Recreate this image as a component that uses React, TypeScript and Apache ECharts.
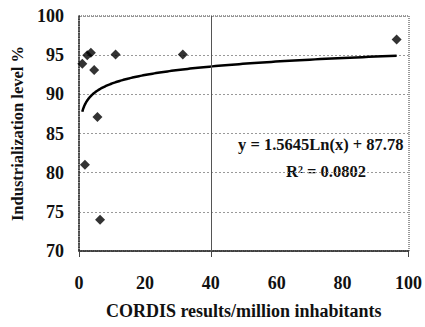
import React, { useEffect, useRef } from "react";
import * as echarts from "echarts";

const xValues = [1.0, 1.8, 2.5, 3.6, 4.6, 5.6, 6.4, 11.1, 31.5, 96.4];
const yValues = [93.9, 81.0, 95.0, 95.3, 93.1, 87.1, 74.0, 95.1, 95.1, 97.0];
const trendA = 1.5645;
const trendB = 87.78;
const equationText = "y = 1.5645Ln(x) + 87.78";
const r2Text = "R² = 0.0802";
const yTicks = [70, 75, 80, 85, 90, 95, 100];
const xTicks = [0, 20, 40, 60, 80, 100];

const FONT = "'Liberation Serif', 'Times New Roman', serif";

export default function App() {
  const ref = useRef<HTMLDivElement>(null);
  useEffect(() => {
    if (!ref.current) return;
    const chart = echarts.init(ref.current, undefined, { renderer: "svg" });
    const points = xValues.map((x, i) => [x, yValues[i]]);
    const xMin = Math.min(...xValues);
    const xMax = Math.max(...xValues);
    const trend: number[][] = [];
    const n = 200;
    for (let i = 0; i <= n; i++) {
      const x = xMin * Math.pow(xMax / xMin, i / n);
      trend.push([x, trendA * Math.log(x) + trendB]);
    }
    chart.setOption({
      animation: false,
      grid: { left: 79, right: 16, top: 16, bottom: 76, show: false },
      xAxis: {
        type: "value",
        min: xTicks[0],
        max: xTicks[xTicks.length - 1],
        interval: 20,
        name: "CORDIS results/million inhabitants",
        nameLocation: "middle",
        nameGap: 51,
        nameTextStyle: { fontFamily: FONT, fontWeight: "bold", fontSize: 18, color: "#111" },
        axisLine: { show: true, lineStyle: { color: "#222", width: 1.5 } },
        axisTick: { show: true, length: 6, customValues: [0, 40, 100], lineStyle: { color: "#444" } },
        axisLabel: { fontFamily: FONT, fontWeight: "bold", fontSize: 18, color: "#111", margin: 23 },
        splitLine: { show: false },
      },
      yAxis: {
        type: "value",
        min: yTicks[0],
        max: yTicks[yTicks.length - 1],
        interval: 5,
        name: "Industrialization level %",
        nameLocation: "middle",
        nameGap: 52,
        nameTextStyle: { fontFamily: FONT, fontWeight: "bold", fontSize: 16.5, color: "#111" },
        axisLine: { show: true, lineStyle: { color: "#222", width: 1.5, type: "dotted" } },
        axisTick: { show: false },
        axisLabel: { fontFamily: FONT, fontWeight: "bold", fontSize: 18, color: "#111", margin: 15 },
        splitLine: { show: true, lineStyle: { color: "#999", type: [2, 2], width: 1 } },
      },
      graphic: [
        {
          type: "rect",
          shape: { x: 79, y: 16, width: 330, height: 235 },
          style: { fill: "none", stroke: "#333", lineWidth: 1, lineDash: [1, 1] },
          silent: true,
          z: -1,
        },
        {
          type: "text",
          left: 238,
          top: 136,
          style: { text: equationText, font: `bold 16.5px ${FONT}`, fill: "#111" },
        },
        {
          type: "text",
          left: 286,
          top: 163,
          style: { text: r2Text, font: `bold 16.5px ${FONT}`, fill: "#111" },
        },
      ],
      series: [
        {
          type: "line",
          data: trend,
          showSymbol: false,
          lineStyle: { color: "#000", width: 2.5 },
          markLine: {
            silent: true,
            symbol: "none",
            label: { show: false },
            lineStyle: { color: "#555", type: "solid", width: 1 },
            data: [{ xAxis: 40 }],
          },
          z: 2,
        },
        {
          type: "scatter",
          data: points,
          symbol: "diamond",
          symbolSize: 10,
          itemStyle: { color: "#000" },
          z: 3,
        },
      ],
    });
    return () => chart.dispose();
  }, []);
  return <div ref={ref} style={{ width: 425, height: 327, position: "absolute", left: 0, top: 0 }} />;
}
